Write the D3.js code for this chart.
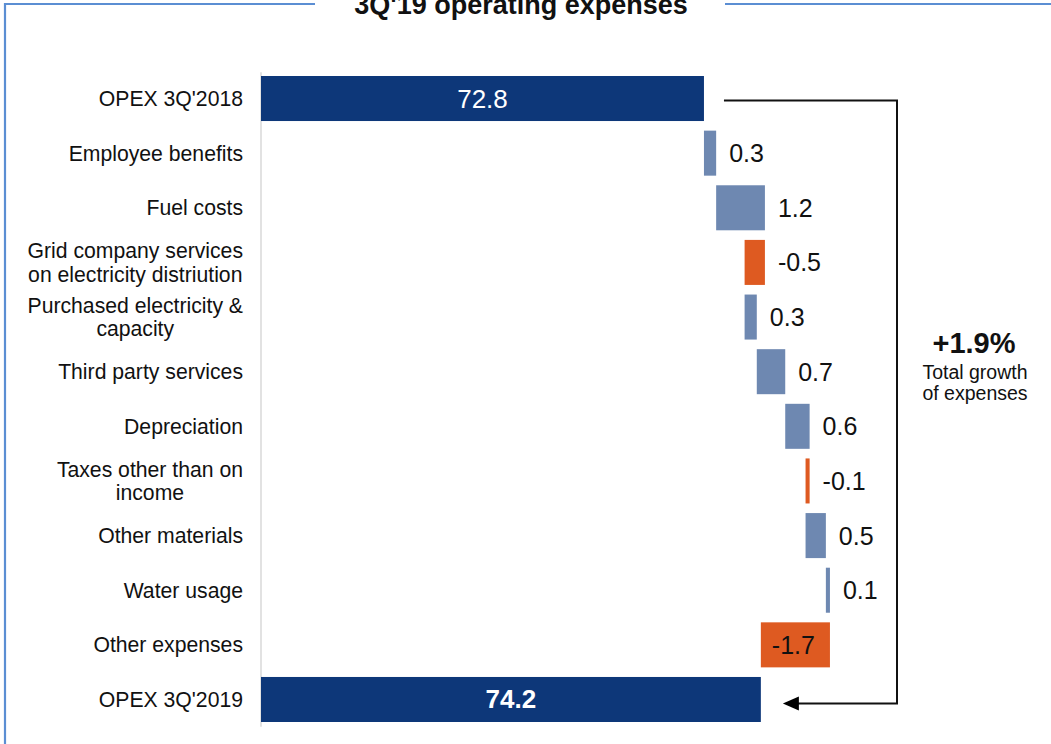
<!DOCTYPE html>
<html>
<head>
<meta charset="utf-8">
<script src="https://cdn.jsdelivr.net/npm/d3@7"></script>
<style>
  body { margin: 0; background: #fff; }
  text { font-family: "Liberation Sans", Arial, sans-serif; }
</style>
</head>
<body>
<svg id="chart" width="1051" height="744"></svg>
<script>
// Data
const categories = ["OPEX 3Q'2018", "Employee benefits", "Fuel costs",
  "Grid company services\non electricity distriution", "Purchased electricity &\ncapacity",
  "Third party services", "Depreciation", "Taxes other than on\nincome",
  "Other materials", "Water usage", "Other expenses", "OPEX 3Q'2019"];
const startTotal = 72.8;
const endTotal = 74.2;
const deltas = [0.3, 1.2, -0.5, 0.3, 0.7, 0.6, -0.1, 0.5, 0.1, -1.7];
const growthLabel = "+1.9%";
const growthText = ["Total growth", "of expenses"];
const title = "3Q'19 operating expenses";

const colors = { total: "#0D3779", up: "#6E88B1", down: "#DE5A21" };

const svg = d3.select("#chart");

// build waterfall rows
let run = startTotal;
const rows = [{ cat: categories[0], type: "total", from: 61.9, to: startTotal, value: startTotal }];
deltas.forEach((d, i) => {
  rows.push({ cat: categories[i + 1], type: d >= 0 ? "up" : "down", from: run, to: run + d, value: d });
  run += d;
});
rows.push({ cat: categories[categories.length - 1], type: "total", from: 61.9, to: endTotal, value: endTotal });

const x = d3.scaleLinear().domain([61.9, 76]).range([261, 834]);
const y = d3.scaleBand().domain(categories).range([71.2, 726.8])
  .paddingInner(0.176).paddingOuter(0.088);

// frame
svg.append("path")
  .attr("d", "M5,744 V4 H315 M725,4 H1051")
  .attr("fill", "none").attr("stroke", "#5B8ED3").attr("stroke-width", 2.2);

// title (top is clipped in the original too)
svg.append("text")
  .attr("x", 521).attr("y", 14)
  .attr("text-anchor", "middle")
  .attr("font-size", 27).attr("font-weight", "bold")
  .attr("fill", "#111")
  .text(title);

// axis line
svg.append("line")
  .attr("x1", x(61.9)).attr("x2", x(61.9))
  .attr("y1", y.range()[0] + 1).attr("y2", y.range()[1])
  .attr("stroke", "#d9d9d9").attr("stroke-width", 1.5);

// bars
svg.selectAll("rect.bar").data(rows).join("rect")
  .attr("class", "bar")
  .attr("x", d => x(Math.min(d.from, d.to)))
  .attr("width", d => Math.abs(x(d.to) - x(d.from)))
  .attr("y", d => y(d.cat))
  .attr("height", y.bandwidth())
  .attr("fill", d => colors[d.type]);

// value labels
rows.forEach((d, i) => {
  const cy = y(d.cat) + y.bandwidth() / 2;
  const t = svg.append("text").attr("y", cy + 9);
  if (d.type === "total") {
    t.attr("x", (x(d.from) + x(d.to)) / 2)
      .attr("text-anchor", "middle").attr("fill", "#fff")
      .attr("font-size", 26)
      .attr("font-weight", i === rows.length - 1 ? "bold" : "normal")
      .text(d.value.toFixed(1));
  } else {
    const w = Math.abs(x(d.to) - x(d.from));
    if (w > 60) {
      t.attr("x", (x(d.from) + x(d.to)) / 2 - 2).attr("text-anchor", "middle");
    } else {
      t.attr("x", x(Math.max(d.from, d.to)) + 13).attr("text-anchor", "start");
    }
    t.attr("fill", "#111").attr("font-size", 25).text(d.value.toFixed(1));
  }
});

// category labels (multi-line centered as a block, right aligned)
categories.forEach(c => {
  const lines = c.split("\n");
  const cy = y(c) + y.bandwidth() / 2;
  const g = svg.append("g");
  const lh = 23.5;
  const texts = lines.map((l, k) => g.append("text")
    .attr("y", cy + 7.5 - (lines.length - 1) * lh / 2 + k * lh)
    .attr("font-size", 21.2).attr("fill", "#111")
    .attr("text-anchor", "middle")
    .text(l));
  const maxW = d3.max(texts, t => t.node().getComputedTextLength());
  texts.forEach(t => t.attr("x", 243 - maxW / 2));
});

// bracket with arrow
const yTop = y(categories[0]) + y.bandwidth() / 2 + 2;
const yBot = y(categories[categories.length - 1]) + y.bandwidth() / 2 + 4;
const bx = 897;
svg.append("path")
  .attr("d", `M${x(startTotal) + 20},${yTop} H${bx} V${yBot} H${x(endTotal) + 36}`)
  .attr("fill", "none").attr("stroke", "#111").attr("stroke-width", 2);
const ax = x(endTotal) + 22;
svg.append("path")
  .attr("d", `M${ax},${yBot} L${ax + 16},${yBot - 7} L${ax + 16},${yBot + 7} Z`)
  .attr("fill", "#000");

// growth annotation
svg.append("text")
  .attr("x", 974).attr("y", 353)
  .attr("text-anchor", "middle").attr("font-size", 29).attr("font-weight", "bold")
  .attr("fill", "#111").text(growthLabel);
growthText.forEach((s, k) => svg.append("text")
  .attr("x", 975).attr("y", 379 + k * 21)
  .attr("text-anchor", "middle").attr("font-size", 19.5)
  .attr("fill", "#111").text(s));
</script>
</body>
</html>
